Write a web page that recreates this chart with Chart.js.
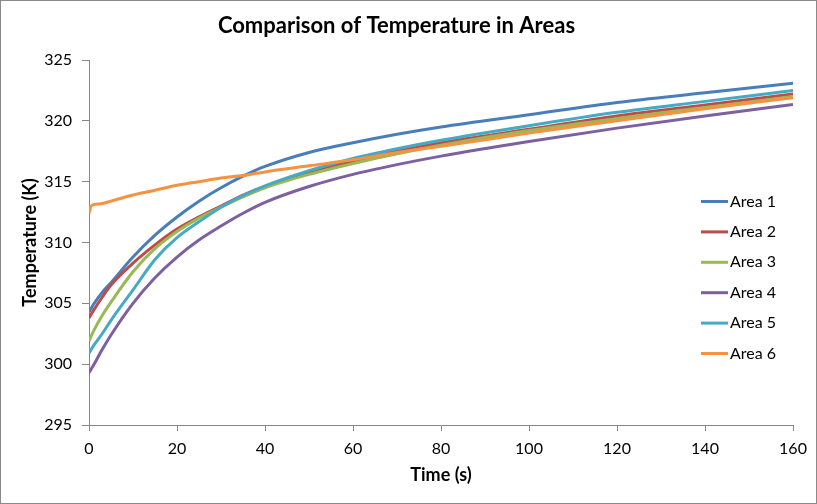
<!DOCTYPE html>
<html>
<head>
<meta charset="utf-8">
<script src="https://cdn.jsdelivr.net/npm/chart.js@4"></script>
<style>
body{margin:0;background:#fff}
#wrap{width:817px;height:504px;position:relative}
</style>
</head>
<body>
<div id="wrap"><canvas id="tempChart" width="817" height="504"></canvas></div>
<script>

// ===== DATA =====
const times = [0, 0.5, 1, 3, 5, 10, 15, 20, 25, 30, 35, 40, 50, 60, 70, 80, 100, 120, 140, 160]

const area1 = [304.3, 304.6, 304.9, 305.9, 306.7, 308.8, 310.6, 312.1, 313.4, 314.5, 315.45, 316.25, 317.4, 318.2, 318.9, 319.5, 320.5, 321.5, 322.3, 323.1]
const area2 = [303.8, 304.1, 304.4, 305.5, 306.5, 308.3, 309.8, 311.1, 312.1, 313.0, 313.9, 314.6, 315.7, 316.7, 317.5, 318.2, 319.3, 320.4, 321.3, 322.2]
const area3 = [301.9, 302.3, 302.7, 304.0, 305.1, 307.6, 309.5, 310.9, 312.0, 312.9, 313.75, 314.5, 315.6, 316.5, 317.3, 318.0, 319.2, 320.2, 321.1, 322.0]
const area4 = [299.3, 299.6, 299.9, 301.2, 302.4, 305.0, 307.1, 308.8, 310.2, 311.35, 312.4, 313.3, 314.6, 315.6, 316.4, 317.1, 318.3, 319.4, 320.4, 321.35]
const area5 = [300.9, 301.2, 301.5, 302.5, 303.6, 306.1, 308.6, 310.4, 311.7, 312.9, 313.85, 314.65, 315.9, 316.9, 317.7, 318.4, 319.6, 320.7, 321.6, 322.5]
const area6 = [312.4, 313.0, 313.1, 313.2, 313.4, 313.9, 314.3, 314.7, 315.0, 315.3, 315.5, 315.8, 316.3, 316.8, 317.4, 317.9, 319.0, 320.0, 321.0, 321.9]

const seriesNames = ["Area 1", "Area 2", "Area 3", "Area 4", "Area 5", "Area 6"]
const seriesValues = [area1, area2, area3, area4, area5, area6]
const seriesColors = ["#4A7EBB", "#BE4B48", "#98B954", "#7D60A0", "#46AAC5", "#F69240"]

const xTicks = [0, 20, 40, 60, 80, 100, 120, 140, 160]
const yTicks = [295, 300, 305, 310, 315, 320, 325]

const FONT = "Lato"
const AXIS = "#868686"


// ===== LEGEND + FRAME (Excel style, drawn over the plot) =====
const excelLegend = {
id:"excelLegend",
afterDraw(chart){
const ctx = chart.ctx
ctx.save()
ctx.font = "16px " + FONT
ctx.textBaseline = "middle"
ctx.fillStyle = "#000"
chart.data.datasets.forEach((ds,i)=>{
const y = 201.5 + i*30.4
ctx.strokeStyle = ds.borderColor
ctx.lineWidth = 3
ctx.beginPath()
ctx.moveTo(701,y)
ctx.lineTo(728,y)
ctx.stroke()
ctx.fillText(ds.label,730,y)
})
ctx.strokeStyle = "#8a8a8a"
ctx.lineWidth = 1
ctx.strokeRect(0.5,0.5,816,503)
ctx.restore()
}
}


// ===== CHART =====
const datasets = seriesNames.map((name,i)=>({
label:name,
data:times.map((t,j)=>({x:t,y:seriesValues[i][j]})),
borderColor:seriesColors[i],
backgroundColor:seriesColors[i],
borderWidth:3,
pointRadius:0,
cubicInterpolationMode:"monotone",
order:seriesNames.length - i
}))

new Chart(document.getElementById("tempChart"),{
type:"line",
data:{datasets:datasets},
options:{
responsive:false,
animation:false,
layout:{padding:{left:0,right:24,top:0,bottom:0}},
plugins:{
legend:{display:false},
tooltip:{enabled:false},
title:{
display:true,
text:"Comparison of Temperature in Areas",
color:"#000",
font:{family:FONT,size:22,weight:"bold"},
padding:{top:13,bottom:20.6}
}
},
scales:{
x:{
type:"linear",
min:0,
max:160,
afterBuildTicks(s){ s.ticks = xTicks.map(v=>({value:v})) },
afterFit(s){ s.height = 79 },
grid:{drawOnChartArea:false,drawTicks:true,tickLength:6,color:AXIS},
border:{color:AXIS},
ticks:{color:"#000",padding:8,font:{family:FONT,size:16}},
title:{display:true,text:"Time (s)",color:"#000",font:{family:FONT,size:18,weight:"bold"},padding:{bottom:18}}
},
y:{
type:"linear",
min:295,
max:325,
afterBuildTicks(s){ s.ticks = yTicks.map(v=>({value:v})) },
afterFit(s){ s.width = 89 },
grid:{drawOnChartArea:false,drawTicks:true,tickLength:7,color:AXIS},
border:{color:AXIS},
ticks:{color:"#000",padding:10,font:{family:FONT,size:16}},
title:{display:true,text:"Temperature (K)",color:"#000",font:{family:FONT,size:18,weight:"bold"},padding:{top:19}}
}
}
},
plugins:[excelLegend]
})

</script>
</body>
</html>
